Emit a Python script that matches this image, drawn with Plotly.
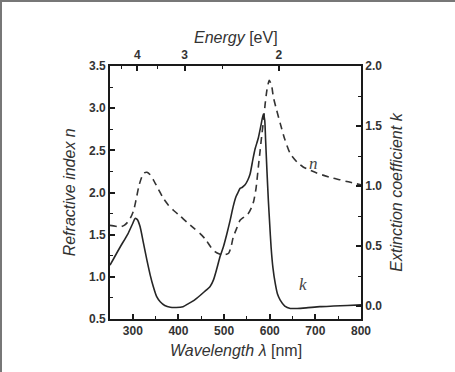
import plotly.graph_objects as go

# k (extinction coefficient) curve
k_wl = [250, 272, 289, 300, 305, 310, 316, 323, 331, 338, 345, 352, 360, 370, 382, 395, 410, 422, 435, 448, 460, 469, 477, 484, 491, 499, 506, 513, 520, 526, 531, 535, 540, 546, 552, 557, 563, 568, 575, 581, 586, 589, 591, 594, 597, 600, 603, 607, 612, 617, 623, 633, 645, 660, 680, 710, 740, 770, 800]
k_val = [0.34, 0.49, 0.60, 0.69, 0.73, 0.72, 0.66, 0.53, 0.38, 0.26, 0.16, 0.08, 0.036, 0.005, -0.01, -0.012, -0.005, 0.02, 0.05, 0.09, 0.13, 0.16, 0.22, 0.31, 0.41, 0.50, 0.60, 0.71, 0.83, 0.91, 0.95, 0.98, 0.99, 1.01, 1.05, 1.10, 1.22, 1.31, 1.40, 1.51, 1.60, 1.55, 1.38, 1.12, 0.88, 0.68, 0.49, 0.32, 0.19, 0.10, 0.05, 0.0, -0.02, -0.02, -0.015, -0.005, 0.0, 0.005, 0.01]

# n (refractive index) curve
n_wl = [250, 262, 272, 281, 289, 296, 302, 307, 313, 318, 324, 331, 338, 345, 356, 367, 378, 389, 404, 418, 433, 448, 460, 470, 480, 490, 500, 510, 515, 520, 528, 535, 544, 553, 560, 565, 570, 575, 579, 583, 587, 590, 594, 599, 604, 608, 615, 623, 633, 645, 660, 674, 690, 703, 720, 739, 755, 769, 785, 800]
n_val = [1.61, 1.60, 1.59, 1.61, 1.65, 1.71, 1.79, 1.91, 2.07, 2.16, 2.23, 2.24, 2.21, 2.15, 2.04, 1.93, 1.85, 1.79, 1.72, 1.65, 1.58, 1.51, 1.44, 1.36, 1.30, 1.27, 1.26, 1.28, 1.35, 1.47, 1.58, 1.67, 1.71, 1.75, 1.82, 1.90, 2.05, 2.30, 2.50, 2.70, 2.88, 3.05, 3.22, 3.33, 3.27, 3.13, 2.98, 2.82, 2.63, 2.46, 2.36, 2.30, 2.26, 2.23, 2.20, 2.17, 2.15, 2.13, 2.11, 2.09]

x_range = [250, 800]
x_ticks = [300, 400, 500, 600, 700, 800]
n_range = [0.5, 3.5]
n_ticks = [0.5, 1.0, 1.5, 2.0, 2.5, 3.0, 3.5]
k_range = [-0.108, 2.0]
k_ticks = [0.0, 0.5, 1.0, 1.5, 2.0]
energy_major = [4, 3, 2]
energy_minor = [4.5, 3.5, 2.5]
HC = 1239.84

ink = "#1a1a1a"
tickfont = dict(family="Liberation Sans, Arial", size=12, color="#333333", weight="bold")

fig = go.Figure()
fig.add_trace(go.Scatter(x=n_wl, y=n_val, mode="lines", line=dict(color="#333333", width=1.6, dash="7px,5px", shape="spline", smoothing=0.6), xaxis="x", yaxis="y", showlegend=False))
fig.add_trace(go.Scatter(x=k_wl, y=k_val, mode="lines", line=dict(color="#262626", width=1.6, shape="spline", smoothing=0.6), xaxis="x", yaxis="y2", showlegend=False))
# invisible trace to anchor top energy axis
fig.add_trace(go.Scatter(x=x_range, y=n_range, mode="markers", marker=dict(opacity=0), xaxis="x2", yaxis="y", showlegend=False, hoverinfo="skip"))

axcommon = dict(showline=True, linecolor=ink, linewidth=1.8, ticks="inside", ticklen=5, tickwidth=1.5, tickcolor=ink, showgrid=False, zeroline=False, tickfont=tickfont)

fig.update_layout(
    width=455, height=372,
    margin=dict(l=110, r=94, t=66, b=53),
    paper_bgcolor="white", plot_bgcolor="white",
    xaxis=dict(range=x_range, tickvals=x_ticks, ticktext=[str(v) for v in x_ticks],
               minor=dict(tickvals=[350, 450, 550, 650, 750], ticks="inside", ticklen=3, tickwidth=1.3, tickcolor=ink),
               **axcommon),
    xaxis2=dict(range=x_range, overlaying="x", side="top", anchor="y",
                tickvals=[HC / e for e in energy_major], ticktext=[str(e) for e in energy_major],
                minor=dict(tickvals=[HC / e for e in energy_minor], ticks="inside", ticklen=3, tickwidth=1.3, tickcolor=ink),
                **axcommon),
    yaxis=dict(range=n_range, tickvals=n_ticks, ticktext=[f"{v:.1f}" for v in n_ticks],
               minor=dict(tickvals=[0.75, 1.25, 1.75, 2.25, 2.75, 3.25], ticks="inside", ticklen=3, tickwidth=1.3, tickcolor=ink),
               **axcommon),
    yaxis2=dict(range=k_range, overlaying="y", side="right", anchor="x",
                tickvals=k_ticks, ticktext=[f"{v:.1f}" for v in k_ticks],
                minor=dict(tickvals=[0.25, 0.75, 1.25, 1.75], ticks="inside", ticklen=3, tickwidth=1.3, tickcolor=ink),
                **axcommon),
)

titlefont = dict(family="Liberation Sans, Arial", size=16, color="#333333")
fig.add_annotation(text="<i>Wavelength λ</i> [nm]", xref="paper", yref="paper", x=0.5, y=-0.123, showarrow=False, font=titlefont, yanchor="middle")
fig.add_annotation(text="<i>Energy</i> [eV]", xref="paper", yref="paper", x=0.5, y=1.111, showarrow=False, font=titlefont, yanchor="middle")
fig.add_annotation(text="<i>Refractive index n</i>", xref="paper", yref="paper", x=-0.16, y=0.5, showarrow=False, font=titlefont, textangle=-90, xanchor="center")
fig.add_annotation(text="<i>Extinction coefficient k</i>", xref="paper", yref="paper", x=1.14, y=0.5, showarrow=False, font=titlefont, textangle=-90, xanchor="center")

labelfont = dict(family="Liberation Serif, Times New Roman", size=17, color="#444444")
fig.add_annotation(text="<i>n</i>", x=695, y=2.34, xref="x", yref="y", showarrow=False, font=labelfont)
fig.add_annotation(text="<i>k</i>", x=673, y=0.18, xref="x", yref="y2", showarrow=False, font=labelfont)

# grey frame on top and left edges of the picture
fig.add_shape(type="line", xref="paper", yref="paper", x0=-110/251, x1=(455-110)/251, y0=1 + 65/253, y1=1 + 65/253, line=dict(color="#777777", width=2))
fig.add_shape(type="line", xref="paper", yref="paper", x0=-109/251, x1=-109/251, y0=-53/253, y1=1 + 66/253, line=dict(color="#777777", width=2))

fig.write_html("out.html", config={"displayModeBar": False},
               post_script="document.body.style.margin='0';document.body.style.padding='0';")
